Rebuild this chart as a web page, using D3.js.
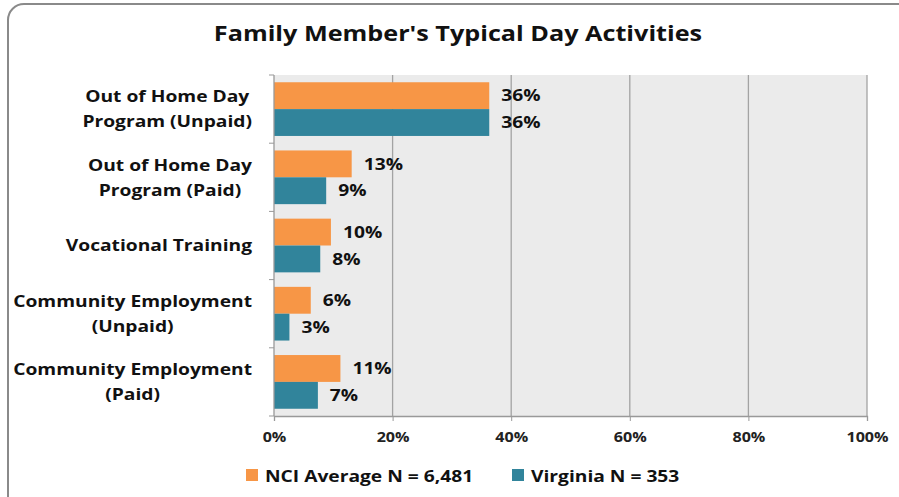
<!DOCTYPE html>
<html>
<head>
<meta charset="utf-8">
<script src="https://cdn.jsdelivr.net/npm/d3@7"></script>
<style>
    body { margin: 0; background: #fff; }
    svg { font-family: "Open Sans", "DejaVu Sans", sans-serif; font-weight: bold; }
</style>
</head>
<body>
<div id="vis"></div>
<script>
const CATEGORIES = [
    ['Out of Home Day', 'Program (Unpaid)'],
    ['Out of Home Day', 'Program (Paid)'],
    ['Vocational Training'],
    ['Community Employment', '(Unpaid)'],
    ['Community Employment', '(Paid)']
]

const NCI_VALUES = [36.3, 13.1, 9.6, 6.2, 11.2]
const VIRGINIA_VALUES = [36.3, 8.8, 7.8, 2.6, 7.4]

const SERIES_NAMES = ['NCI Average N = 6,481', 'Virginia N = 353']
const COLORS = ['#f79646', '#31849b']
const X_TICKS = [0, 20, 40, 60, 80, 100]

const width = 899
const height = 497
const margin = {top: 75, right: 32, bottom: 81, left: 274}
const STRETCH = 1.2

// the source font is wider than anything installed, so widen glyphs a bit
function stretch(sel, k) {
    sel.each(function () {
        let w = this.getComputedTextLength()
        d3.select(this)
            .attr('textLength', w * k)
            .attr('lengthAdjust', 'spacingAndGlyphs')
    })
}

let svg = d3.select('#vis')
    .append('svg')
    .attr('width', width)
    .attr('height', height)

// outer frame
svg.append('rect')
    .attr('x', 8)
    .attr('y', 4)
    .attr('width', width + 20)
    .attr('height', height + 20)
    .attr('rx', 16)
    .attr('fill', '#fff')
    .attr('stroke', '#8a8a8a')
    .attr('stroke-width', 2)

svg.append('text')
    .attr('x', 458)
    .attr('y', 41)
    .attr('text-anchor', 'middle')
    .style('font-size', '21px')
    .attr('fill', '#111')
    .text("Family Member's Typical Day Activities")
    .call(stretch, STRETCH)

let x = d3.scaleLinear()
    .domain([0, 100])
    .range([margin.left, width - margin.right])

let y = d3.scaleBand()
    .domain(d3.range(CATEGORIES.length))
    .range([margin.top, height - margin.bottom])

let inner = d3.scaleBand()
    .domain([0, 1])
    .range([0, y.bandwidth()])
    .paddingOuter(0.27)

// plot background
svg.append('rect')
    .attr('x', x(0))
    .attr('y', margin.top)
    .attr('width', x(100) - x(0))
    .attr('height', height - margin.bottom - margin.top)
    .attr('fill', '#ebebeb')

// gridlines
svg.append('g')
    .selectAll('line')
    .data(X_TICKS.slice(1))
    .enter().append('line')
    .attr('x1', d => x(d))
    .attr('x2', d => x(d))
    .attr('y1', margin.top)
    .attr('y2', height - margin.bottom)
    .attr('stroke', '#a3a3a3')
    .attr('stroke-width', 1.3)

// bars
let groups = svg.append('g')
    .selectAll('g')
    .data(CATEGORIES.map((c, i) => [NCI_VALUES[i], VIRGINIA_VALUES[i]]))
    .enter().append('g')
    .attr('transform', (d, i) => `translate(0, ${y(i)})`)

groups.selectAll('rect')
    .data(d => d)
    .enter().append('rect')
    .attr('x', x(0))
    .attr('y', (d, j) => inner(j))
    .attr('width', d => x(d) - x(0))
    .attr('height', inner.bandwidth())
    .attr('fill', (d, j) => COLORS[j])

groups.selectAll('text')
    .data(d => d)
    .enter().append('text')
    .attr('x', d => x(d) + 12)
    .attr('y', (d, j) => inner(j) + inner.bandwidth() / 2)
    .attr('dy', '0.36em')
    .style('font-size', '16px')
    .attr('fill', '#111')
    .text(d => Math.round(d) + '%')
    .call(stretch, STRETCH)

// x axis
let xAxis = d3.axisBottom(x)
    .tickValues(X_TICKS)
    .tickFormat(d => d + '%')
    .tickSize(5)
    .tickPadding(11)

let gx = svg.append('g')
    .attr('transform', `translate(0, ${height - margin.bottom})`)
    .call(xAxis)
gx.select('.domain').attr('stroke', '#999').attr('stroke-width', 1.3)
gx.selectAll('.tick line').attr('stroke', '#999')
gx.selectAll('.tick text')
    .style('font-size', '14px')
    .style('font-weight', 'bold')
    .style('font-family', '"Open Sans", sans-serif')
    .attr('fill', '#222')
    .call(stretch, 1.15)

// y axis line and category separators
svg.append('line')
    .attr('x1', x(0)).attr('x2', x(0))
    .attr('y1', margin.top).attr('y2', height - margin.bottom)
    .attr('stroke', '#999')
    .attr('stroke-width', 1.3)

svg.append('g')
    .selectAll('line')
    .data(d3.range(CATEGORIES.length + 1))
    .enter().append('line')
    .attr('x1', x(0) - 5)
    .attr('x2', x(0))
    .attr('y1', i => margin.top + i * y.step())
    .attr('y2', i => margin.top + i * y.step())
    .attr('stroke', '#999')

// category labels: block right aligned, lines centred in block
let labelRight = 252
CATEGORIES.forEach((lines, i) => {
    let g = svg.append('g')
    let texts = g.selectAll('text')
        .data(lines)
        .enter().append('text')
        .style('font-size', '16px')
        .attr('fill', '#111')
        .attr('text-anchor', 'middle')
        .text(d => d)
    let widths = texts.nodes().map(n => n.getComputedTextLength() * STRETCH)
    texts.call(stretch, STRETCH)
    let blockW = d3.max(widths)
    let lineH = 25
    let cy = y(i) + y.bandwidth() / 2
    let firstY = cy - (lines.length - 1) * lineH / 2
    texts.attr('x', labelRight - blockW / 2)
        .attr('y', (d, k) => firstY + k * lineH)
        .attr('dy', '0.36em')
})

// legend
let legend = svg.append('g')
let legendPos = [246, 512]
SERIES_NAMES.forEach((name, i) => {
    legend.append('rect')
        .attr('x', legendPos[i])
        .attr('y', 469)
        .attr('width', 12)
        .attr('height', 12)
        .attr('fill', COLORS[i])
    legend.append('text')
        .attr('x', legendPos[i] + 19)
        .attr('y', 476)
        .attr('dy', '0.36em')
        .style('font-size', '16px')
        .attr('fill', '#111')
        .text(name)
        .call(stretch, STRETCH)
})
</script>
</body>
</html>
